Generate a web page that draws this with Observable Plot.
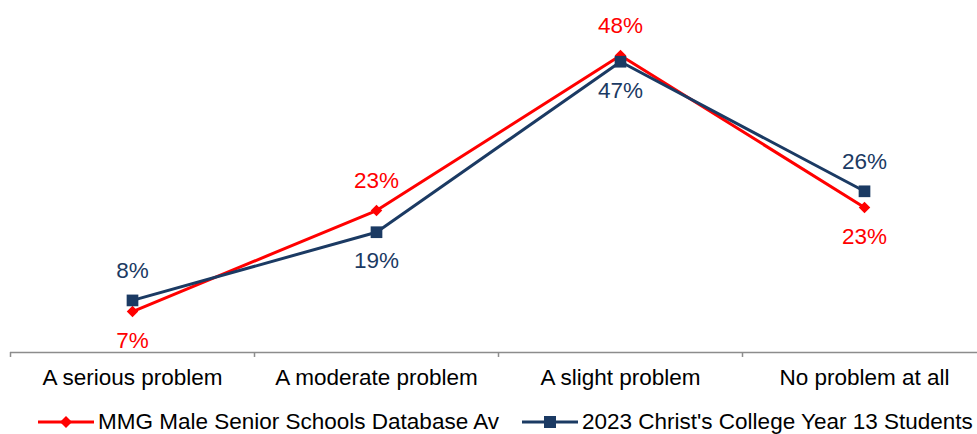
<!DOCTYPE html>
<html>
<head>
<meta charset="utf-8">
<script src="https://cdn.jsdelivr.net/npm/d3@7"></script>
<script src="https://cdn.jsdelivr.net/npm/@observablehq/plot@0.6"></script>
<style>
  body { margin: 0; background: #fff; font-family: "Liberation Sans", Arial, sans-serif; }
  #wrap { position: relative; width: 977px; height: 434px; overflow: hidden; }
  #legend { position: absolute; left: 0; top: 407px; width: 977px; height: 29px; font-size: 22.5px; color: #000; }
  .item { position: absolute; top: 0; height: 29px; display: flex; align-items: center; white-space: nowrap; }
  .item svg { margin-right: 4px; }
</style>
</head>
<body>
<div id="wrap">
  <div id="chart"></div>
  <div id="legend"></div>
</div>
<script>
const categories = ["A serious problem", "A moderate problem", "A slight problem", "No problem at all"];
const seriesNames = ["MMG Male Senior Schools Database Av", "2023 Christ's College Year 13 Students"];
const mmgValues = [6.6, 22.9, 47.9, 23.4];
const christsValues = [8.4, 19.4, 46.9, 26.0];
const seriesColors = ["#FF0000", "#1B3A63"];
const seriesSymbols = ["diamond2", "square"];

const rows = [];
categories.forEach((c, i) => {
  rows.push({category: c, series: seriesNames[0], value: mmgValues[i], other: christsValues[i]});
  rows.push({category: c, series: seriesNames[1], value: christsValues[i], other: mmgValues[i]});
});
const above = rows.filter(d => d.value >= d.other);
const below = rows.filter(d => d.value < d.other);
const colorOf = s => seriesColors[seriesNames.indexOf(s)];

const bw = (986 - 10) / categories.length;

const chart = Plot.plot({
  width: 977,
  height: 405,
  marginLeft: 10,
  marginRight: 0,
  marginTop: 11,
  marginBottom: 53,
  style: {fontFamily: "Liberation Sans, Arial, sans-serif", fontSize: "22.5px", background: "#fff"},
  x: {type: "band", domain: categories, range: [10, 986], padding: 0, label: null},
  y: {domain: [0, 55], axis: null},
  marks: [
    Plot.ruleY([0], {stroke: "#8c8c8c", strokeWidth: 1.5}),
    Plot.ruleX(categories, {x: d => d, dx: -bw / 2, y1: 0, y2: -0.8, stroke: "#8c8c8c", strokeWidth: 1.5}),
    Plot.axisX({tickSize: 0, tickPadding: 17, fontSize: 22.5, fill: "#000", label: null}),
    ...seriesNames.map((s, k) => Plot.line(rows.filter(d => d.series === s), {
      x: "category", y: "value", stroke: seriesColors[k], strokeWidth: 3
    })),
    ...seriesNames.map((s, k) => Plot.dot(rows.filter(d => d.series === s), {
      x: "category", y: "value", symbol: () => seriesSymbols[k], fill: seriesColors[k],
      stroke: "none", r: k === 0 ? 5.2 : 6.6
    })),
    Plot.text(above, {x: "category", y: "value", text: d => Math.round(d.value) + "%", fill: d => colorOf(d.series), dy: -30, fontSize: 22.5}),
    Plot.text(below, {x: "category", y: "value", text: d => Math.round(d.value) + "%", fill: d => colorOf(d.series), dy: 29, fontSize: 22.5})
  ]
});
document.getElementById("chart").appendChild(chart);

// Legend
const legend = document.getElementById("legend");
const lefts = [38, 522];
seriesNames.forEach((s, k) => {
  const item = document.createElement("div");
  item.className = "item";
  item.style.left = lefts[k] + "px";
  const sym = k === 0
    ? `<path d="M28,9 L34,15 L28,21 L22,15 Z" fill="${seriesColors[k]}"/>`
    : `<rect x="22" y="9" width="12" height="12" fill="${seriesColors[k]}"/>`;
  item.innerHTML = `<svg width="56" height="30"><line x1="0" y1="15" x2="56" y2="15" stroke="${seriesColors[k]}" stroke-width="3"/>${sym}</svg><span>${s}</span>`;
  legend.appendChild(item);
});
</script>
</body>
</html>
